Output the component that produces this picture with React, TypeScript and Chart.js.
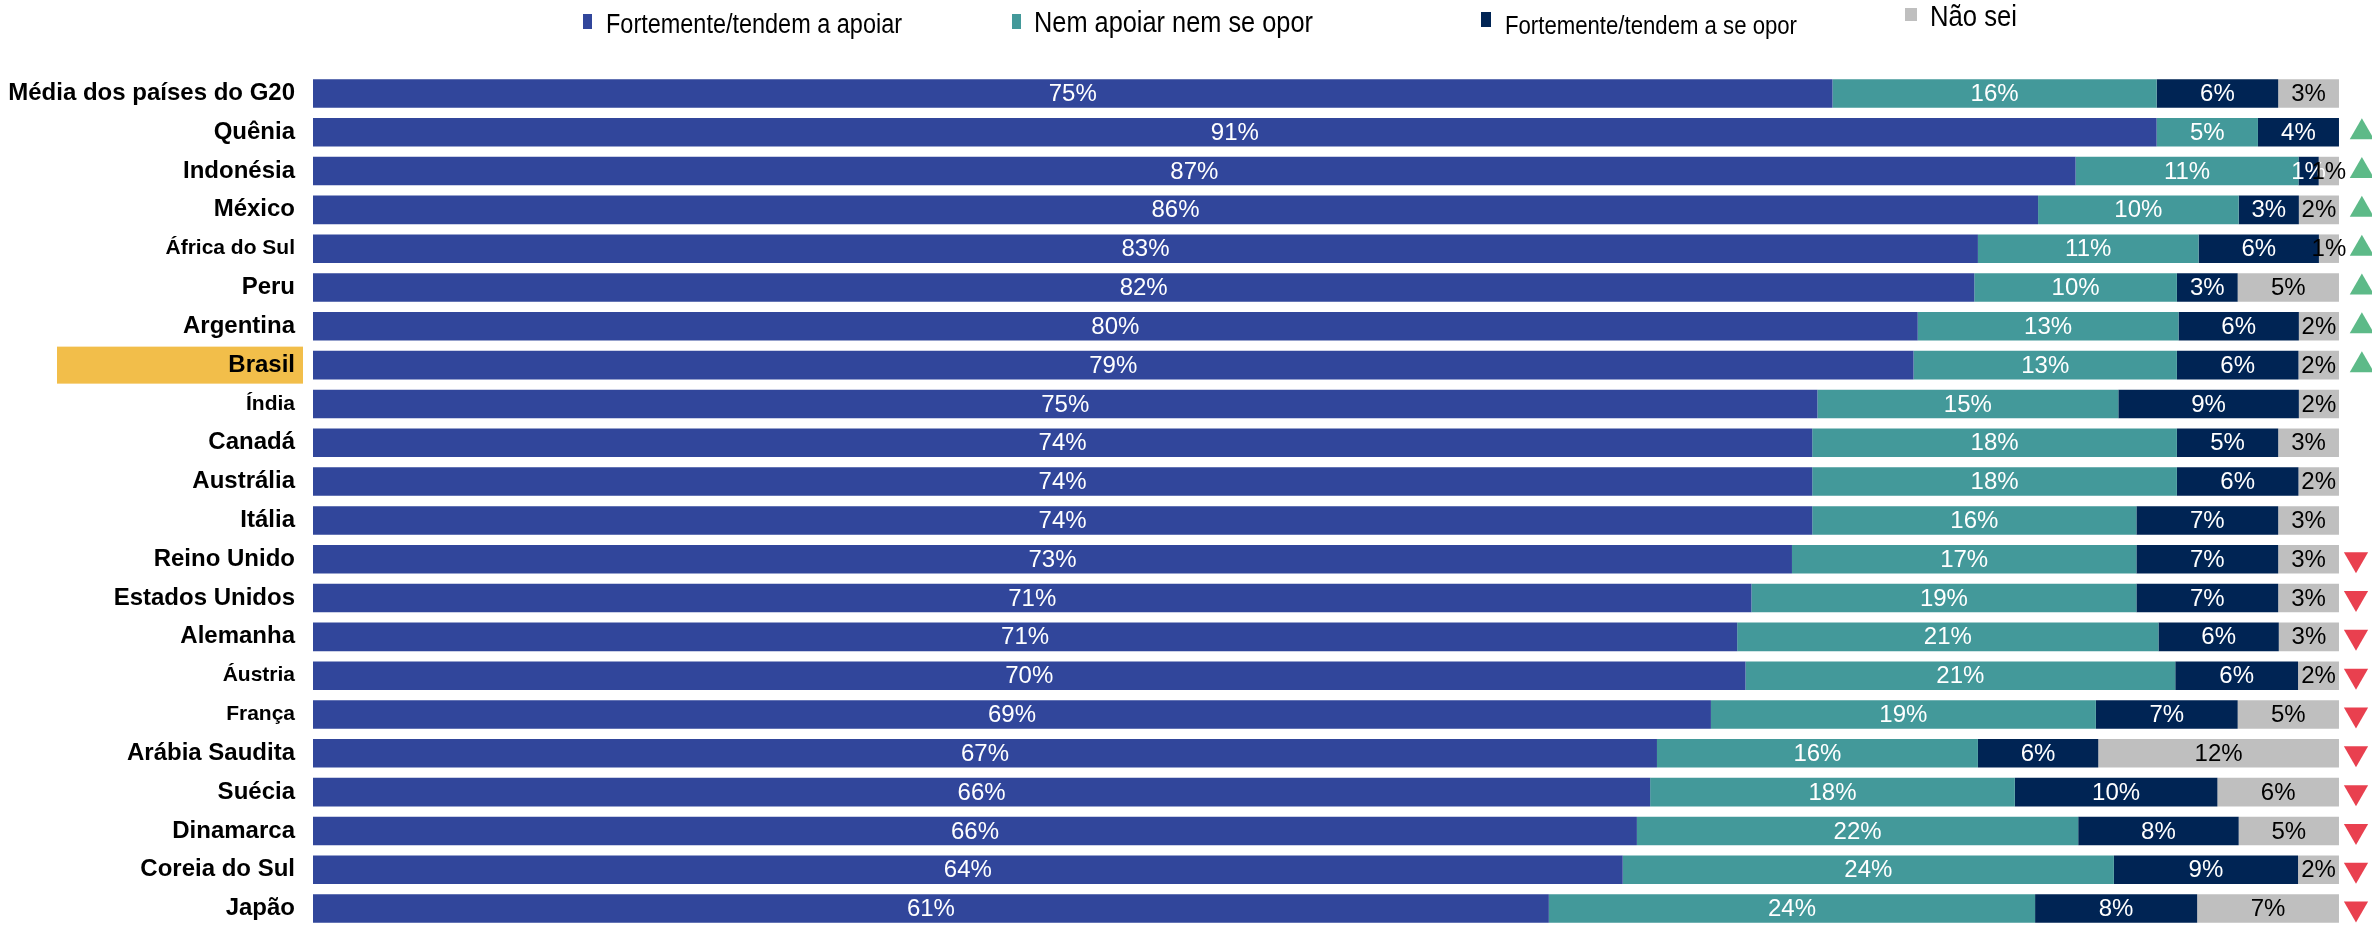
import React, { useEffect, useRef } from 'react';
import { Chart, registerables } from 'chart.js';

Chart.register(...registerables);

const CATEGORIES = [
  'Média dos países do G20', 'Quênia', 'Indonésia', 'México', 'África do Sul', 'Peru', 'Argentina',
  'Brasil', 'Índia', 'Canadá', 'Austrália', 'Itália', 'Reino Unido', 'Estados Unidos', 'Alemanha',
  'Áustria', 'França', 'Arábia Saudita', 'Suécia', 'Dinamarca', 'Coreia do Sul', 'Japão',
];
const SUPPORT = [75, 91, 87, 86, 83, 82, 80, 79, 75, 74, 74, 74, 73, 71, 71, 70, 69, 67, 66, 66, 64, 61];
const NEUTRAL = [16, 5, 11, 10, 11, 10, 13, 13, 15, 18, 18, 16, 17, 19, 21, 21, 19, 16, 18, 22, 24, 24];
const OPPOSE = [6, 4, 1, 3, 6, 3, 6, 6, 9, 5, 6, 7, 7, 7, 6, 6, 7, 6, 10, 8, 9, 8];
const DONT_KNOW = [3, 0, 1, 2, 1, 5, 2, 2, 2, 3, 2, 3, 3, 3, 3, 2, 5, 12, 6, 5, 2, 7];
const SERIES_NAMES = [
  'Fortemente/tendem a apoiar', 'Nem apoiar nem se opor', 'Fortemente/tendem a se opor', 'Não sei',
];
const TREND_UP = ['Quênia', 'Indonésia', 'México', 'África do Sul', 'Peru', 'Argentina', 'Brasil'];
const TREND_DOWN = [
  'Reino Unido', 'Estados Unidos', 'Alemanha', 'Áustria', 'França', 'Arábia Saudita', 'Suécia',
  'Dinamarca', 'Coreia do Sul', 'Japão',
];
const HIGHLIGHT = 'Brasil';

// ---- styles ----
const FONT = "'Liberation Sans', Arial, sans-serif";
const COLORS = ['#31469B', '#43999A', '#002454', '#BFBFBF'];
const LABEL_COLORS = ['#FFFFFF', '#FFFFFF', '#FFFFFF', '#000000'];
const UP_COLOR = '#5DBA88';
const DOWN_COLOR = '#E9404F';
const HIGHLIGHT_COLOR = '#F2BE4A';
const SMALL_LABELS = new Set(['África do Sul', 'Índia', 'Áustria', 'França']);
const AXIS_WIDTH = 313;
const X_MAX = 101.63;
const LEGEND_STYLE = [
  { mx: 583, my: 14, mw: 9, mh: 15, tx: 606, ty: 26, size: 27, w: 296 },
  { mx: 1012, my: 14, mw: 9, mh: 15, tx: 1034, ty: 24, size: 29, w: 279 },
  { mx: 1481, my: 12, mw: 10, mh: 15, tx: 1505, ty: 27, size: 25, w: 292 },
  { mx: 1905, my: 8, mw: 12, mh: 13, tx: 1930, ty: 18, size: 29, w: 87 },
];

const SERIES_VALUES = [SUPPORT, NEUTRAL, OPPOSE, DONT_KNOW];
const TOTALS = CATEGORIES.map((_, i) => SERIES_VALUES.reduce((s, arr) => s + arr[i], 0));

const highlightPlugin = {
  id: 'highlightBox',
  beforeDraw(chart: any) {
    const y = chart.scales.y.getPixelForValue(CATEGORIES.indexOf(HIGHLIGHT));
    const left = chart.chartArea.left;
    const ctx = chart.ctx;
    ctx.save();
    ctx.fillStyle = HIGHLIGHT_COLOR;
    ctx.fillRect(left - 256, y - 18.5, 246, 37);
    ctx.restore();
  },
};

const valueLabelPlugin = {
  id: 'valueLabels',
  afterDatasetsDraw(chart: any) {
    const ctx = chart.ctx;
    ctx.save();
    ctx.font = `24px ${FONT}`;
    ctx.textAlign = 'center';
    ctx.textBaseline = 'middle';
    SERIES_VALUES.forEach((vals, di) => {
      const meta = chart.getDatasetMeta(di);
      ctx.fillStyle = LABEL_COLORS[di];
      meta.data.forEach((el: any, i: number) => {
        const v = vals[i];
        if (!v) return;
        const { x, y, base } = el.getProps(['x', 'y', 'base'], true);
        ctx.fillText(`${v}%`, (x + base) / 2, y + 1);
      });
    });
    ctx.restore();
  },
};

const legendPlugin = {
  id: 'customLegend',
  afterDraw(chart: any) {
    const ctx = chart.ctx;
    ctx.save();
    ctx.textBaseline = 'middle';
    ctx.textAlign = 'left';
    SERIES_NAMES.forEach((name, i) => {
      const s = LEGEND_STYLE[i];
      ctx.fillStyle = COLORS[i];
      ctx.fillRect(s.mx, s.my, s.mw, s.mh);
      ctx.font = `${s.size}px ${FONT}`;
      const mw = ctx.measureText(name).width;
      const sx = s.w / mw;
      ctx.save();
      ctx.translate(s.tx, s.ty);
      ctx.scale(sx, 1);
      ctx.fillStyle = '#000000';
      ctx.fillText(name, 0, 0);
      ctx.restore();
    });
    ctx.restore();
  },
};

export default function App() {
  const canvasRef = useRef<HTMLCanvasElement | null>(null);

  useEffect(() => {
    if (!canvasRef.current) return;
    const datasets: any[] = SERIES_NAMES.map((name, di) => ({
      type: 'bar',
      label: name,
      data: SERIES_VALUES[di].map((v, i) => (v / TOTALS[i]) * 100),
      backgroundColor: COLORS[di],
      borderWidth: 0,
      categoryPercentage: 1,
      barPercentage: 0.735,
      xAxisID: 'x',
      yAxisID: 'y',
    }));
    datasets.push({
      type: 'scatter',
      label: 'up',
      data: TREND_UP.map((c) => ({ x: 101.13, y: c })),
      xAxisID: 'x2',
      yAxisID: 'y',
      pointStyle: 'triangle',
      pointRadius: 14,
      pointHoverRadius: 14,
      pointRotation: 0,
      backgroundColor: UP_COLOR,
      borderWidth: 0,
    });
    datasets.push({
      type: 'scatter',
      label: 'down',
      data: TREND_DOWN.map((c) => ({ x: 100.84, y: c })),
      xAxisID: 'x2',
      yAxisID: 'y',
      pointStyle: 'triangle',
      pointRadius: 14,
      pointHoverRadius: 14,
      pointRotation: 180,
      backgroundColor: DOWN_COLOR,
      borderWidth: 0,
    });

    const chart = new Chart(canvasRef.current, {
      type: 'bar',
      data: { labels: CATEGORIES, datasets },
      options: {
        indexAxis: 'y',
        animation: false,
        responsive: true,
        maintainAspectRatio: false,
        layout: { autoPadding: false, padding: { top: 74, left: 0, right: 0, bottom: 0 } },
        plugins: { legend: { display: false }, tooltip: { enabled: false } },
        scales: {
          x: { type: 'linear', min: 0, max: X_MAX, stacked: true, display: false },
          x2: { type: 'linear', min: 0, max: X_MAX, display: false },
          y: {
            type: 'category',
            labels: CATEGORIES,
            stacked: true,
            grid: { display: false, drawTicks: false },
            border: { display: false },
            ticks: {
              color: '#000000',
              padding: 18,
              autoSkip: false,
              font: (c: any) => ({
                family: FONT,
                weight: 'bold',
                size: SMALL_LABELS.has(CATEGORIES[c.index]) ? 21 : 24,
              }),
            },
            afterFit: (s: any) => {
              s.width = AXIS_WIDTH;
              s.paddingTop = 0;
              s.paddingBottom = 0;
            },
          },
        },
      } as any,
      plugins: [highlightPlugin, valueLabelPlugin, legendPlugin],
    });
    return () => chart.destroy();
  }, []);

  return (
    <div style={{ position: 'fixed', left: 0, top: 0, width: 2372, height: 928, background: '#FFFFFF' }}>
      <canvas ref={canvasRef} />
    </div>
  );
}
